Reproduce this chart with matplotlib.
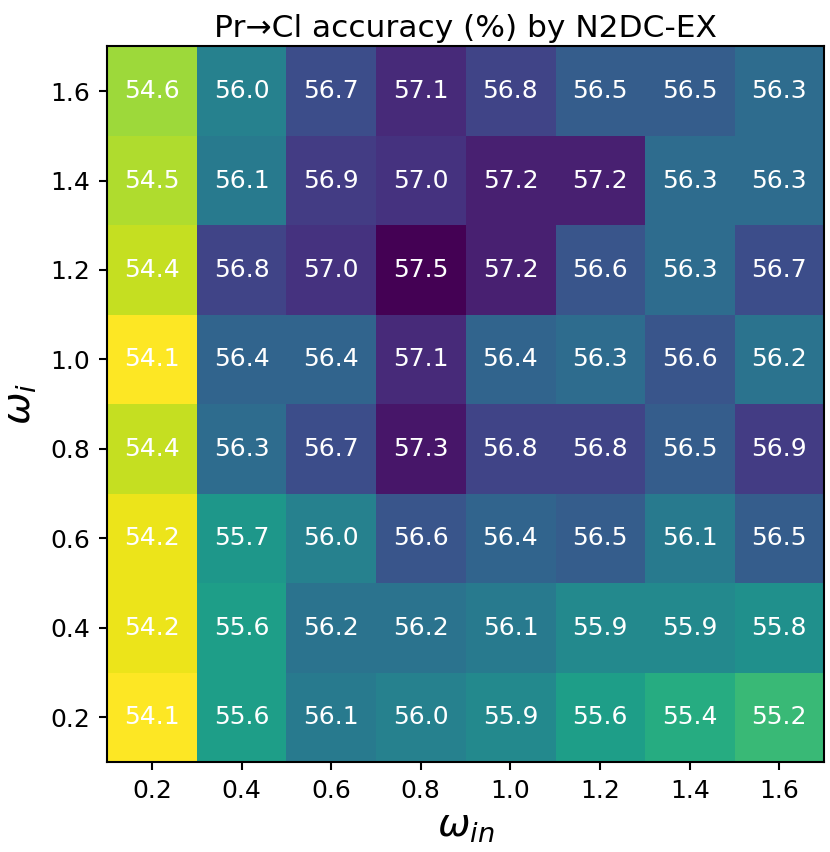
import numpy as np
import matplotlib.pyplot as plt

# 参数网格
w_in = [0.2, 0.4, 0.6, 0.8, 1.0, 1.2, 1.4, 1.6]
w_i = [0.2, 0.4, 0.6, 0.8, 1.0, 1.2, 1.4, 1.6]

# 准确率 (%)，行 = ω_i 从 0.2 到 1.6
acc_02 = [54.1, 55.6, 56.1, 56.0, 55.9, 55.6, 55.4, 55.2]
acc_04 = [54.2, 55.6, 56.2, 56.2, 56.1, 55.9, 55.9, 55.8]
acc_06 = [54.2, 55.7, 56.0, 56.6, 56.4, 56.5, 56.1, 56.5]
acc_08 = [54.4, 56.3, 56.7, 57.3, 56.8, 56.8, 56.5, 56.9]
acc_10 = [54.1, 56.4, 56.4, 57.1, 56.4, 56.3, 56.6, 56.2]
acc_12 = [54.4, 56.8, 57.0, 57.5, 57.2, 56.6, 56.3, 56.7]
acc_14 = [54.5, 56.1, 56.9, 57.0, 57.2, 57.2, 56.3, 56.3]
acc_16 = [54.6, 56.0, 56.7, 57.1, 56.8, 56.5, 56.5, 56.3]

acc = np.array([acc_02, acc_04, acc_06, acc_08, acc_10, acc_12, acc_14, acc_16])

fig = plt.figure(figsize=(8.3, 8.52), dpi=100)
ax = fig.add_axes([0.129, 0.1056, 0.864, 0.840])

ax.imshow(acc, cmap='viridis_r', origin='lower', aspect='auto')

for i in range(len(w_i)):
    for j in range(len(w_in)):
        ax.text(j, i, f'{acc[i, j]:.1f}', ha='center', va='center',
                color='white', fontsize=18)

ax.set_xticks(range(len(w_in)))
ax.set_xticklabels([f'{v:.1f}' for v in w_in])
ax.set_yticks(range(len(w_i)))
ax.set_yticklabels([f'{v:.1f}' for v in w_i])
ax.tick_params(labelsize=18, length=6, width=1.5, pad=6)
for s in ax.spines.values():
    s.set_linewidth(1.5)

ax.set_xlabel(r'$\omega_{in}$', fontsize=28, labelpad=3)
ax.set_ylabel(r'$\omega_{i}$', fontsize=28, labelpad=8)
ax.set_title('Pr→Cl accuracy (%) by N2DC-EX', fontsize=22.5, pad=7)

fig.savefig('out.png', dpi=100)
